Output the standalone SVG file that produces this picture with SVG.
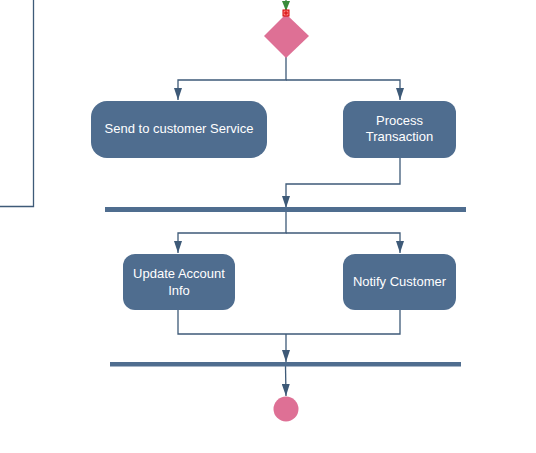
<svg xmlns="http://www.w3.org/2000/svg" width="536" height="453" viewBox="0 0 536 453">
<defs>
<marker id="arr" markerWidth="12" markerHeight="8" refX="12" refY="4" orient="auto" markerUnits="userSpaceOnUse" viewBox="0 0 12 8">
<path d="M0,0 L12,4 L0,8 Z" fill="#3e5a78"/>
</marker>
<marker id="garr" markerWidth="10" markerHeight="8" refX="10" refY="4" orient="auto" markerUnits="userSpaceOnUse" viewBox="0 0 10 8">
<path d="M0,0 L10,4 L0,8 Z" fill="#3a8a3a"/>
</marker>
<style>
.node{fill:#4f6d8f;}
.bar{fill:#4f6d8f;}
.lbl{font-family:"Liberation Sans",Arial,sans-serif;font-size:13px;fill:#ffffff;text-anchor:middle;}
.c{fill:none;stroke:#3e5a78;stroke-width:1.3;}
</style>
</defs>
<rect width="536" height="453" fill="#ffffff"/>
<g id="connectors">
<path class="c" d="M33.5,0 V206.5 H0"/>
<path class="c" d="M286,0 V11" style="stroke:#3a8a3a" marker-end="url(#garr)"/>
<path class="c" d="M286,57 V80 H178 V100" marker-end="url(#arr)"/>
<path class="c" d="M286,80 H400 V100" marker-end="url(#arr)"/>
<path class="c" d="M400,158 V184 H286 V208" marker-end="url(#arr)"/>
<path class="c" d="M286,212 V233 H178 V253" marker-end="url(#arr)"/>
<path class="c" d="M286,233 H400 V253" marker-end="url(#arr)"/>
<path class="c" d="M178,310 V334 H400 V310"/>
<path class="c" d="M286,334 V362" marker-end="url(#arr)"/>
<path class="c" d="M285.5,366 L286,396" marker-end="url(#arr)"/>
</g>
<g id="decision">
<polygon points="286,14 309,36 286,58 264,36" fill="#de7095"/>
<rect x="283" y="10" width="6" height="6" fill="#ff8080" stroke="#d00000" stroke-width="1"/>
<path d="M286,11 V15 M284,13 H288" stroke="#d00000" stroke-width="1"/>
</g>
<g id="send-to-customer-service">
<rect class="node" x="91" y="101" width="176" height="57" rx="16"/>
<text class="lbl" x="179" y="133">Send to customer Service</text>
</g>
<g id="process-transaction">
<rect class="node" x="343" y="101" width="113" height="57" rx="12"/>
<text class="lbl" x="399.5" y="125">Process</text>
<text class="lbl" x="399.5" y="141">Transaction</text>
</g>
<g id="fork-bar">
<rect class="bar" x="105" y="207" width="361" height="5"/>
</g>
<g id="update-account-info">
<rect class="node" x="123" y="254" width="112" height="56" rx="12"/>
<text class="lbl" x="179" y="278">Update Account</text>
<text class="lbl" x="179" y="295">Info</text>
</g>
<g id="notify-customer">
<rect class="node" x="343" y="254" width="113" height="56" rx="12"/>
<text class="lbl" x="399.5" y="286">Notify Customer</text>
</g>
<g id="join-bar">
<rect class="bar" x="110" y="362" width="351" height="4.5"/>
</g>
<g id="final">
<circle cx="286" cy="409" r="12.5" fill="#de7095"/>
</g>
</svg>
